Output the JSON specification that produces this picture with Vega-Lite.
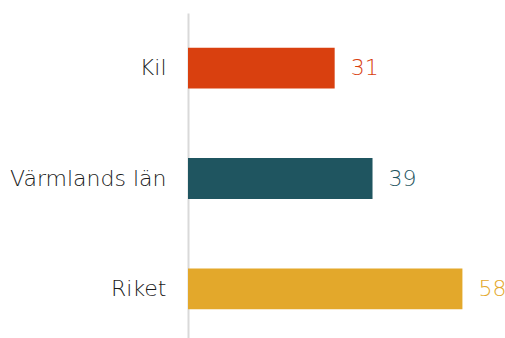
{
  "$schema": "https://vega.github.io/schema/vega-lite/v6.json",
  "autosize": {"type": "none"},
  "padding": {"left": 188, "top": 13, "right": 0, "bottom": 0},
  "width": 317,
  "height": 331,
  "background": "white",
  "config": {"view": {"stroke": null}, "font": "DejaVu Sans"},
  "data": {"values": [
    {"region": "Kil", "value": 31, "color": "#D9400F"},
    {"region": "Värmlands län", "value": 39, "color": "#1F5560"},
    {"region": "Riket", "value": 58, "color": "#E3A82B"}
  ]},
  "encoding": {
    "y": {"field": "region", "type": "nominal", "sort": null,
      "scale": {"paddingInner": 0.63, "paddingOuter": 0.315},
      "axis": {"title": null, "ticks": false, "domainColor": "#d9d9d9", "domainWidth": 2,
        "labelFontSize": 22, "labelColor": "#1a1a1a", "labelPadding": 22, "labelFont": "DejaVu Sans", "labelFontWeight": 200, "labelLimit": 200}},
    "x": {"field": "value", "type": "quantitative", "scale": {"domain": [0, 67]}, "axis": null}
  },
  "layer": [
    {"mark": {"type": "bar", "clip": false},
     "encoding": {"color": {"field": "color", "type": "nominal", "scale": null}}},
    {"mark": {"type": "text", "align": "left", "baseline": "middle", "dx": 16, "fontSize": 22, "font": "DejaVu Sans", "fontWeight": 200},
     "encoding": {"text": {"field": "value", "type": "quantitative"}, "color": {"field": "color", "type": "nominal", "scale": null}}}
  ]
}
